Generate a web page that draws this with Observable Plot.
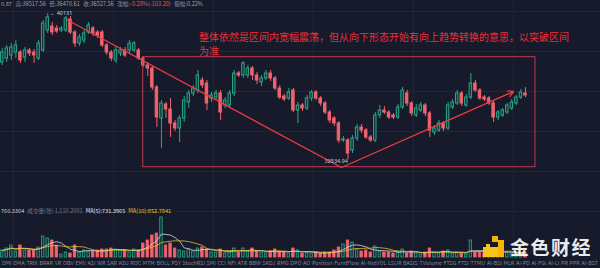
<!DOCTYPE html>
<html><head><meta charset="utf-8">
<script src="https://cdn.jsdelivr.net/npm/d3@7"></script>
<script src="https://cdn.jsdelivr.net/npm/@observablehq/plot@0.6"></script>
<style>
html,body{margin:0;padding:0;background:#161a2b;overflow:hidden}
#wrap{position:relative;width:600px;height:268px;overflow:hidden;background:#161a2b;font-family:"Noto Sans CJK SC","Noto Sans",sans-serif}
#wrap svg{position:absolute;left:0;top:0}
.hdr{position:absolute;top:0px;left:1px;font-size:5.6px;line-height:8px;color:#8d92a3;white-space:nowrap;display:flex;gap:3.5px}
.note{position:absolute;left:199px;top:30px;font-size:10px;line-height:14px;color:#ee2f36;white-space:nowrap}
.vleg{position:absolute;left:1px;top:207px;font-size:5.6px;line-height:8px;white-space:nowrap;display:flex;gap:3px}
.bar{position:absolute;left:2px;right:2px;top:259px;font-size:5.4px;line-height:8px;color:#7f8497;display:flex;justify-content:space-between;white-space:nowrap}
.wm{position:absolute;left:483px;top:235px;height:22px;display:flex;align-items:center;gap:6px}
.wm .ic{width:21px;height:21px;position:relative}
.wm .ic i{position:absolute;background:#f5b400}
.wm .tx{font-size:19px;font-weight:bold;color:rgba(255,255,255,0.92);letter-spacing:1.5px;font-family:"Noto Sans CJK SC",sans-serif}
</style></head>
<body><div id="wrap"></div>
<script>
// ---- data ----
const open = [37583,37791,37947,38103,38103,37843,38207,38103,37791,38207,
39247,39455,39351,39247,39247,39819,39143,38571,38727,39143,
39351,39143,39143,38467,38103,37687,38051,38207,38207,38207,
38207,37791,37427,37271,36283,34671,35399,35139,34411,34151,
34671,35503,35971,36127,36647,36491,35711,35763,35971,35347,
35347,35971,37011,36907,36907,37271,36907,36543,36751,37011,
36751,36231,35815,35711,36127,35087,35347,35191,35711,36023,
35711,35451,34983,34671,34411,33527,33527,33007,33631,34203,
34047,33683,33527,34827,35087,34983,34827,34723,35243,35971,
35451,34827,35087,35347,34931,33943,34047,34411,34151,35243,
35451,35971,35347,35763,36491,36127,35763,35711,35451,34723,
34827,34983,35191,35451,35763,35971];
const close = [38103,38311,38363,38467,37687,38207,38051,37947,38571,39611,
39923,39143,39195,39351,39871,39143,38571,38883,39091,39507,
39091,38987,38467,38103,37791,38207,38207,37947,38571,38571,
37791,37427,37271,36283,34723,35451,35139,34411,34151,34671,
35607,35971,36231,36907,36387,35451,35867,35971,34983,35607,
35971,37011,36907,37531,37271,36907,36647,36751,37011,36751,
36231,35763,35659,36023,35087,35347,35191,35711,36023,35711,
35451,34983,34567,34411,33527,33579,32851,33631,34203,34047,
33683,33527,34827,35087,34983,34723,34723,35243,36127,35451,
34931,35191,35347,34931,34047,34151,34411,34151,35347,35503,
35971,35451,35763,36491,36127,35711,35659,35451,34723,34983,
35087,35347,35503,35763,36023,35867];
const high = [38311,38467,38571,38727,38207,38363,38311,38259,38727,39767,
40131,39663,39507,39455,39975,39975,39247,39039,39247,39663,
39455,39247,39247,38571,38207,38415,38363,38363,38727,38675,
38311,37895,37583,37375,36387,35607,35503,35711,34567,34827,
35815,36127,36387,37167,36803,36647,36023,36127,36127,35763,
36127,37167,37115,37635,37427,37375,37063,36907,37167,37167,
36855,36387,35919,36231,36231,35503,35451,35867,36127,36127,
35815,35555,35087,34775,34515,33735,33631,33787,34359,34359,
34151,33787,34983,35347,35295,35087,34931,35399,36283,36127,
35555,35399,35503,35451,35035,34307,34567,34515,35503,35659,
36127,36075,35919,37011,36647,36231,35867,35815,35555,35087,
35191,35451,35659,35867,36179,36283];
const low = [37427,37583,37687,37791,37531,37583,37895,37531,37687,38103,
39091,38987,39091,39143,39143,39039,38363,38415,38571,39039,
38935,38831,38363,37947,37635,37531,37895,37843,38051,38103,
37687,37323,36855,36127,34203,33111,34671,33683,33995,33423,
34463,35191,35815,35971,36231,35087,35503,35607,34567,35191,
35191,35815,36803,36751,36751,36647,36439,36335,36647,36595,
36127,35659,35555,35607,34983,34411,35035,35087,35555,35607,
35295,34879,34411,34255,33371,33423,32534.94,32851,33475,33891,
33579,33423,33423,34671,34879,34619,34619,34619,35139,35295,
34775,34723,34983,34775,33683,33787,33943,33995,34047,35139,
35347,35295,35243,35659,36023,35607,35555,35347,34463,34567,
34723,34879,35087,35347,35659,35763];
const volume = [1050,1350,1800,900,1800,1050,1050,1050,1500,3150,
2850,2550,1800,450,750,600,1800,750,1050,900,
900,1050,1200,1200,1350,1200,1050,1050,750,1200,
1050,2100,2550,3300,3600,6000,1800,2100,1350,1050,
900,1200,900,1350,1500,1200,750,750,1200,600,
900,1350,750,1350,900,1350,900,750,600,900,
1200,900,750,600,1350,1050,600,750,600,750,
600,750,750,1050,1500,1950,2550,2250,1200,900,
1050,750,1650,900,750,750,600,900,1200,600,
900,600,450,750,1350,750,600,900,1050,600,
750,600,450,2550,750,750,600,900,1200,750,
600,750,600,750,600,750];
const peakLabel = "← 40131";
const lowLabel = "32534.94";
const boxIdx = [31, 117.2];
const boxPrice = [32138, 37859];
const trendIdx = [14.13, 74.57, 112.37];
const trendPrice = [39819, 32123, 36075];
const gridPrices = [40235, 38155, 36075, 33995, 31915, 29835];
const gridIdx = [2.5, 24.5, 46.4, 68.4, 90.4, 112.4];
const toolbar = ["DMI","DMA","TRIX","BRAR","VR","OBV","EMV","ASI","WR","SAR","KDJ","ROC","MTM","BOLL","PSY","StochRSI","SMI","CCI","NFI","ATR","BBW","SKDJ","RMG","DPO","AO","Position","FundFlow","AI-NetVOL","LSUR","BASIS","TVolume","FTSG","FTSI","TTMU","AI-BSI","MLR","AI-PD","AI-FGI","AI-LI","PR","PPR","AI-BST"];
const header = [["","0.87"],["高:","36517.56"],["低:","36470.61"],["收:","36527.56"],["涨幅:","-0.28%(-103.20)"],["振幅:","0.22%"]];
const volLegend = [["760.3304","#c9ccd6"],["成交量(张) 1,110.2001","#6f7486"],["MA(5):731.3965","#e4e2f2"],["MA(10):852.7841","#e8c62a"]];
const note = "整体依然是区间内宽幅震荡，但从向下形态开始有向上趋势转换的意思，以突破区间<br>为准";

// ---- build ----
const GREEN = "#27a88a", GREEN_FILL = "#173338", RED = "#f0636d";
const candles = open.map((o, i) => ({i, o, c: close[i], h: high[i], l: low[i], v: volume[i], up: close[i] >= o}));
const xDomain = [-0.3736, 131.494];
const wrap = document.getElementById("wrap");

const main = Plot.plot({
  width: 600, height: 268, margin: 0,
  style: {background: "transparent", fontFamily: "Noto Sans, sans-serif"},
  x: {domain: xDomain, axis: null},
  y: {domain: [26871, 40807], axis: null},
  color: {type: "identity"},
  marks: [
    Plot.ruleY(gridPrices, {stroke: "#20263a", strokeWidth: 1}),
    Plot.ruleX(gridIdx, {stroke: "#20263a", strokeWidth: 1}),
    Plot.ruleX(candles, {x: "i", y1: "l", y2: "h", stroke: d => d.up ? GREEN : RED, strokeWidth: 1}),
    Plot.rect(candles, {x1: d => d.i - 0.27, x2: d => d.i + 0.27, y1: "o", y2: "c",
      fill: d => d.up ? GREEN_FILL : RED, stroke: d => d.up ? GREEN : RED, strokeWidth: 1}),
    Plot.rect([{x1: boxIdx[0], x2: boxIdx[1], y1: boxPrice[0], y2: boxPrice[1]}],
      {x1: "x1", x2: "x2", y1: "y1", y2: "y2", fill: "none", stroke: "#c23a4b", strokeWidth: 1}),
    Plot.link([{x1: trendIdx[0], y1: trendPrice[0], x2: trendIdx[1], y2: trendPrice[1]}],
      {x1: "x1", y1: "y1", x2: "x2", y2: "y2", stroke: "#f03c3c", strokeWidth: 1.3}),
    Plot.arrow([{x1: trendIdx[1], y1: trendPrice[1], x2: trendIdx[2], y2: trendPrice[2]}],
      {x1: "x1", y1: "y1", x2: "x2", y2: "y2", stroke: "#f03c3c", strokeWidth: 1.3, headLength: 7, bend: 0}),
    Plot.text([candles[10]], {x: "i", y: "h", text: () => peakLabel, textAnchor: "start", dx: 2, fontSize: 5.5, fill: "#d0d3dc"}),
    Plot.text([candles[76]], {x: "i", y: "l", text: () => lowLabel, textAnchor: "end", dx: 0, dy: 2, fontSize: 5.5, fill: "#c6c9d3"})
  ]
});
wrap.appendChild(main);

const vol = Plot.plot({
  width: 600, height: 268, marginTop: 217, marginBottom: 11, marginLeft: 0, marginRight: 0,
  style: {background: "transparent"},
  x: {domain: xDomain, axis: null},
  y: {domain: [0, 6000], axis: null},
  color: {type: "identity"},
  marks: [
    Plot.rectY(candles, {x1: d => d.i - 0.27, x2: d => d.i + 0.27, y: "v",
      fill: d => d.up ? GREEN_FILL : RED, stroke: d => d.up ? GREEN : RED, strokeWidth: 0.8}),
    Plot.lineY(candles, Plot.windowY({k: 5, anchor: "end"}, {x: "i", y: "v", stroke: "#d8d4ee", strokeWidth: 0.8})),
    Plot.lineY(candles, Plot.windowY({k: 10, anchor: "end"}, {x: "i", y: "v", stroke: "#e3c22a", strokeWidth: 0.8}))
  ]
});
wrap.appendChild(vol);

// ---- text overlays ----
const hdr = document.createElement("div"); hdr.className = "hdr";
hdr.innerHTML = header.map(([k, v]) => `<span>${k}<span style="color:${v.startsWith('-') ? '#d9606a' : '#9ea2b1'}">${v}</span></span>`).join("");
wrap.appendChild(hdr);

const nt = document.createElement("div"); nt.className = "note"; nt.innerHTML = note; wrap.appendChild(nt);

const vl = document.createElement("div"); vl.className = "vleg";
vl.innerHTML = volLegend.map(([t, c]) => `<span style="color:${c}">${t}</span>`).join("");
wrap.appendChild(vl);

const tb = document.createElement("div"); tb.className = "bar";
tb.innerHTML = toolbar.map(t => `<span>${t}</span>`).join("");
wrap.appendChild(tb);

const wm = document.createElement("div"); wm.className = "wm";
wm.innerHTML = `<div class="ic"><i style="left:9px;top:0;width:6px;height:6px"></i><i style="left:15px;top:4px;width:6px;height:17px"></i><i style="left:0;top:11px;width:15px;height:10px;background:#f7c21a"></i><i style="left:3px;top:8px;width:4px;height:3px;background:#f7c21a"></i></div><div class="tx">金色财经</div>`;
wrap.appendChild(wm);
</script>
</body></html>
